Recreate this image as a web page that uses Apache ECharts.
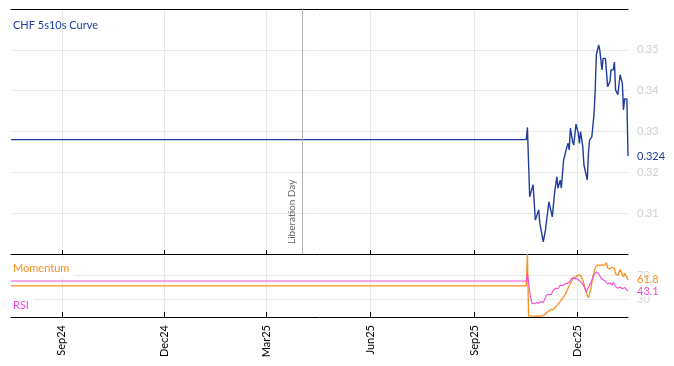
<!DOCTYPE html>
<html>
<head>
<meta charset="utf-8">
<script src="https://cdn.jsdelivr.net/npm/echarts@6/dist/echarts.min.js"></script>
<style>html,body{margin:0;padding:0;background:#fff}#c{width:674px;height:366px}</style>
</head>
<body>
<div id="c"></div>
<script>
// ---- data ----
var curveDates = ['2024-07-18','2025-10-17','2025-10-18','2025-10-20','2025-10-23','2025-10-25','2025-10-26','2025-10-28','2025-10-29','2025-11-01','2025-11-03','2025-11-04','2025-11-06','2025-11-09','2025-11-11','2025-11-13','2025-11-14','2025-11-16','2025-11-17','2025-11-19','2025-11-20','2025-11-22','2025-11-23','2025-11-24','2025-11-25','2025-11-27','2025-11-28','2025-11-30','2025-12-02','2025-12-03','2025-12-04','2025-12-06','2025-12-07','2025-12-08','2025-12-10','2025-12-11','2025-12-12','2025-12-14','2025-12-16','2025-12-17','2025-12-18','2025-12-20','2025-12-21','2025-12-23','2025-12-24','2025-12-26','2025-12-28','2025-12-30','2025-12-31','2026-01-02','2026-01-03','2026-01-04','2026-01-06','2026-01-07','2026-01-08','2026-01-10','2026-01-11','2026-01-12','2026-01-14','2026-01-15'];
var curveValues = [0.328,0.328,0.331,0.314,0.317,0.3083,0.3079,0.3108,0.3075,0.303,0.3059,0.3083,0.3128,0.3091,0.3149,0.3189,0.3161,0.3181,0.3161,0.323,0.323,0.3263,0.3271,0.3255,0.3308,0.3275,0.3267,0.3318,0.3296,0.3271,0.330,0.3263,0.3218,0.3222,0.3181,0.3247,0.3279,0.3287,0.3345,0.3402,0.3488,0.3512,0.350,0.3451,0.3479,0.3479,0.341,0.3422,0.3451,0.3451,0.347,0.3402,0.339,0.339,0.3439,0.3418,0.3353,0.338,0.338,0.324];

var momDates = ['2024-07-18','2025-10-17','2025-10-18','2025-10-19','2025-10-23','2025-10-27','2025-10-30','2025-11-02','2025-11-04','2025-11-06','2025-11-08','2025-11-10','2025-11-12','2025-11-14','2025-11-16','2025-11-18','2025-11-20','2025-11-22','2025-11-24','2025-11-26','2025-11-28','2025-11-30','2025-12-02','2025-12-04','2025-12-06','2025-12-08','2025-12-10','2025-12-11','2025-12-13','2025-12-15','2025-12-17','2025-12-19','2025-12-21','2025-12-23','2025-12-25','2025-12-27','2025-12-28','2025-12-30','2026-01-01','2026-01-03','2026-01-04','2026-01-06','2026-01-08','2026-01-09','2026-01-11','2026-01-12','2026-01-14','2026-01-15'];
var momValues = [52,52,105,2,1,2,1.5,3,7,10,13,12,17,21,26,31,36,44,52,60,66,67,70,69,62,48,36,32,46,68,82,87,86,87,86,90,82,80,83,81,72,69,79,77,67,73,66,61.8];

var rsiDates = ['2024-07-18','2025-10-17','2025-10-18','2025-10-20','2025-10-22','2025-10-24','2025-10-26','2025-10-28','2025-10-30','2025-11-01','2025-11-02','2025-11-04','2025-11-06','2025-11-08','2025-11-10','2025-11-12','2025-11-14','2025-11-16','2025-11-18','2025-11-20','2025-11-22','2025-11-24','2025-11-26','2025-11-28','2025-11-30','2025-12-02','2025-12-04','2025-12-06','2025-12-09','2025-12-10','2025-12-13','2025-12-16','2025-12-18','2025-12-20','2025-12-22','2025-12-24','2025-12-26','2025-12-28','2025-12-30','2026-01-01','2026-01-02','2026-01-04','2026-01-06','2026-01-08','2026-01-10','2026-01-12','2026-01-15'];
var rsiValues = [60,60,72.7,42,22.7,22,24,23,26,24,25,36.7,38,37,45,48,47,53,52,55,56,58,64,65,64,62,59,55,42,43,57,70,75,72,65,62,60,55,57,53,58,51,48,50,47,49,43.1];

var tickDates = ['2024-09-01','2024-12-01','2025-03-01','2025-06-01','2025-09-01','2025-12-01'];
var tickLabels = ['Sep24','Dec24','Mar25','Jun25','Sep25','Dec25'];
var xMin = '2024-07-18', xMax = '2026-01-15';
var eventDate = '2025-04-02', eventLabel = 'Liberation Day';
var curveTicks = [0.30, 0.36, 0.01];
var oscTicks = [30, 70];

// ---- build ----
function ts(d){ return Date.UTC(+d.slice(0,4), +d.slice(5,7)-1, +d.slice(8,10)); }
function zip(d, v){ return d.map(function(x,i){ return [ts(x), v[i]]; }); }
var tickTs = tickDates.map(ts);
function fmtTick(val){
  var i = tickTs.indexOf(+val);
  return i >= 0 ? tickLabels[i] : '';
}
var FONT = 'Lato, "Open Sans", sans-serif';
var BLUE = '#1f3c9e', ORANGE = '#f7901e', PINK = '#f04ad6';
var gridLine = {show:true, lineStyle:{color:'#e8e8e8', width:1}};

var chart = echarts.init(document.getElementById('c'), null, {renderer:'canvas'});
chart.setOption({
  animation: false,
  textStyle: {fontFamily: FONT},
  title: [
    {text:'CHF 5s10s Curve', left:8, top:17, padding:[3,5], textStyle:{color:BLUE, fontSize:11, fontWeight:'normal', fontFamily:FONT}},
    {text:'Momentum', left:8, top:260, padding:[3,5], backgroundColor:'#fff', textStyle:{color:ORANGE, fontSize:11, fontWeight:'normal', fontFamily:FONT}},
    {text:'RSI', left:8, top:297, padding:[3,5], backgroundColor:'#fff', textStyle:{color:PINK, fontSize:11, fontWeight:'normal', fontFamily:FONT}}
  ],
  grid: [
    {left:11, right:46, top:9, height:245},
    {left:11, right:46, top:254, height:63}
  ],
  xAxis: [
    {type:'value', gridIndex:0, min:ts(xMin), max:ts(xMax), position:'bottom', scale:true,
     axisLine:{show:true, onZero:false, lineStyle:{color:'#000', width:1}},
     axisTick:{show:true, inside:true, length:4, customValues:tickTs, lineStyle:{color:'#000'}},
     axisLabel:{show:false, customValues:tickTs},
     splitLine:gridLine},
    {type:'value', gridIndex:0, min:ts(xMin), max:ts(xMax), position:'top', scale:true,
     axisLine:{show:true, onZero:false, lineStyle:{color:'#000', width:1}},
     axisTick:{show:false}, axisLabel:{show:false}, splitLine:{show:false}},
    {type:'value', gridIndex:1, min:ts(xMin), max:ts(xMax), position:'bottom', scale:true,
     axisLine:{show:true, onZero:false, lineStyle:{color:'#000', width:1}},
     axisTick:{show:true, inside:true, length:5, customValues:tickTs, lineStyle:{color:'#000'}},
     axisLabel:{show:true, customValues:tickTs, rotate:90, formatter:fmtTick, color:'#000', fontSize:11, margin:8, fontFamily:FONT},
     splitLine:gridLine}
  ],
  yAxis: [
    {type:'value', gridIndex:0, position:'right', min:curveTicks[0], max:curveTicks[1], interval:curveTicks[2],
     axisLine:{show:false}, axisTick:{show:false},
     axisLabel:{color:'#d0d0d0', fontSize:11, margin:9, showMinLabel:false, showMaxLabel:false, fontFamily:FONT,
       formatter:function(v){ return v.toFixed(2); }},
     splitLine:gridLine},
    {type:'value', gridIndex:1, position:'right', min:0, max:105,
     axisLine:{show:false}, axisTick:{show:false, customValues:oscTicks},
     axisLabel:{color:'#d8d8d8', fontSize:11, margin:9, customValues:oscTicks, fontFamily:FONT},
     splitLine:gridLine}
  ],
  series: [
    {type:'line', name:'CHF 5s10s Curve', xAxisIndex:0, yAxisIndex:0, data:zip(curveDates, curveValues),
     showSymbol:false, lineStyle:{color:BLUE, width:1.4}, itemStyle:{color:BLUE},
     endLabel:{show:true, color:BLUE, fontSize:11, distance:9, fontFamily:FONT, backgroundColor:'#fff',
       formatter:function(p){ return p.value[1].toFixed(3); }},
     markLine:{silent:true, symbol:['none','none'], animation:false,
       lineStyle:{color:'#b4b4b4', width:1, type:'solid'},
       label:{show:true, position:'insideStartTop', formatter:eventLabel, color:'#666', fontSize:10, fontFamily:FONT, distance:[10,6]},
       data:[{xAxis:ts(eventDate)}]}},
    {type:'line', name:'Momentum', xAxisIndex:2, yAxisIndex:1, data:zip(momDates, momValues),
     showSymbol:false, lineStyle:{color:ORANGE, width:1.3}, itemStyle:{color:ORANGE},
     endLabel:{show:true, color:ORANGE, fontSize:11, distance:9, fontFamily:FONT,
       formatter:function(p){ return p.value[1].toFixed(1); }}},
    {type:'line', name:'RSI', xAxisIndex:2, yAxisIndex:1, data:zip(rsiDates, rsiValues),
     showSymbol:false, lineStyle:{color:PINK, width:1.1}, itemStyle:{color:PINK},
     endLabel:{show:true, color:PINK, fontSize:11, distance:9, fontFamily:FONT, backgroundColor:'#fff',
       formatter:function(p){ return p.value[1].toFixed(1); }}}
  ]
});
</script>
</body>
</html>
